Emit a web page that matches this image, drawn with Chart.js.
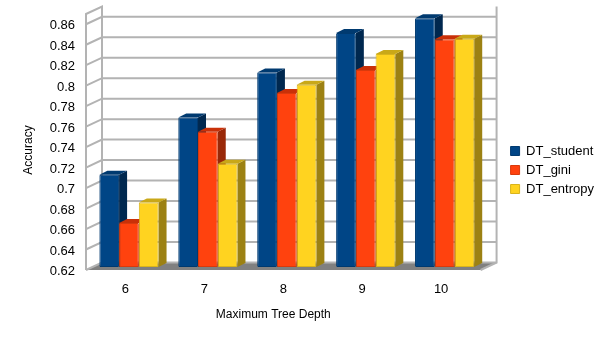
<!DOCTYPE html>
<html>
<head>
<meta charset="utf-8">
<script src="https://cdn.jsdelivr.net/npm/chart.js@4"></script>
<style>
  html, body { margin: 0; padding: 0; background: #fff; }
  canvas { display: block; }
</style>
</head>
<body>
<canvas id="chart" width="605" height="340"></canvas>
<script>
var depths = ["6", "7", "8", "9", "10"];
var dtStudent = [0.710, 0.766, 0.810, 0.8485, 0.863];
var dtGini = [0.663, 0.752, 0.790, 0.8125, 0.8425];
var dtEntropy = [0.683, 0.7208, 0.798, 0.828, 0.843];
var yTicks = [0.62, 0.64, 0.66, 0.68, 0.7, 0.72, 0.74, 0.76, 0.78, 0.8, 0.82, 0.84, 0.86];

var FONT = "'Liberation Sans', Arial, sans-serif";
var GRID = "#b3b3b3";
// fake 3d: how far the back wall and the bars sit from the front plane
var wallDx = 16, wallDy = -7.5;
var barDx = 3.5, barDy = -3;
var sideDx = 8, sideDy = -4;
var sideColors = ["#00284f", "#992808", "#9c8113"];
var topColors = ["#003a70", "#c93008", "#c9a818"];

var wallPlugin = {
    id: "wall",
    afterLayout: function (chart) {
        var y = chart.scales.y, tickPixel = y.getPixelForTick;
        // axis titles are not centred on the plot in the original
        chart.scales.x.right -= 20;
        y.top += 16;
        // and the tick labels sit a little under their grid lines
        y.getPixelForTick = function (i) { return tickPixel.call(y, i) + 1.5; };
    },
    beforeDatasetsDraw: function (chart) {
        var ctx = chart.ctx, a = chart.chartArea, y = chart.scales.y;
        ctx.save();
        // floor
        ctx.fillStyle = "#808080";
        ctx.beginPath();
        ctx.moveTo(a.left, a.bottom);
        ctx.lineTo(a.left + wallDx, a.bottom + wallDy);
        ctx.lineTo(a.right + wallDx, a.bottom + wallDy);
        ctx.lineTo(a.right, a.bottom);
        ctx.closePath();
        ctx.fill();
        // grid lines, round the side wall and along the back
        ctx.strokeStyle = GRID;
        ctx.lineWidth = 2;
        yTicks.forEach(function (v) {
            var py = y.getPixelForValue(v);
            ctx.beginPath();
            ctx.moveTo(a.left, py);
            ctx.lineTo(a.left + wallDx, py + wallDy);
            ctx.lineTo(a.right + wallDx, py + wallDy);
            ctx.stroke();
        });
        // wall outline
        ctx.beginPath();
        ctx.moveTo(a.left, a.bottom);
        ctx.lineTo(a.left, a.top);
        ctx.lineTo(a.left + wallDx, a.top + wallDy);
        ctx.lineTo(a.left + wallDx, a.bottom + wallDy);
        ctx.moveTo(a.right + wallDx, a.top + wallDy);
        ctx.lineTo(a.right + wallDx, a.bottom + wallDy);
        ctx.lineTo(a.right, a.bottom);
        ctx.stroke();
        ctx.restore();
    },
    // the library paints the last dataset first, here blue has to go first
    beforeDatasetDraw: function () {
        return false;
    },
    afterDatasetsDraw: function (chart) {
        var ctx = chart.ctx;
        ctx.save();
        ctx.translate(barDx, barDy);
        chart.data.datasets.forEach(function (ds, i) {
            var bars = chart.getDatasetMeta(i).data;
            bars.forEach(function (bar) {
                var p = bar.getProps(["x", "y", "base", "width"], true);
                var r = p.x + p.width / 2, l = p.x - p.width / 2;
                ctx.fillStyle = sideColors[i];
                ctx.beginPath();
                ctx.moveTo(r, p.y);
                ctx.lineTo(r + sideDx, p.y + sideDy);
                ctx.lineTo(r + sideDx, p.base + sideDy);
                ctx.lineTo(r, p.base);
                ctx.closePath();
                ctx.fill();
                ctx.fillStyle = topColors[i];
                ctx.beginPath();
                ctx.moveTo(l, p.y);
                ctx.lineTo(l + sideDx, p.y + sideDy);
                ctx.lineTo(r + sideDx, p.y + sideDy);
                ctx.lineTo(r, p.y);
                ctx.closePath();
                ctx.fill();
                bar.draw(ctx);
            });
        });
        ctx.restore();
    }
};

function barSet(label, values, color, edge) {
    return {
        label: label,
        data: values,
        base: yTicks[0],
        backgroundColor: color,
        borderColor: edge,
        borderWidth: 1,
        borderRadius: 1,
        borderSkipped: false,
        categoryPercentage: 0.75,
        barPercentage: 1
    };
}

new Chart(document.getElementById("chart"), {
    type: "bar",
    plugins: [wallPlugin],
    data: {
        labels: depths,
        datasets: [
            barSet("DT_student", dtStudent, "#004586", "#003a70"),
            barSet("DT_gini", dtGini, "#ff420e", "#d93a0c"),
            barSet("DT_entropy", dtEntropy, "#ffd320", "#d9b41c")
        ]
    },
    options: {
        responsive: false,
        animation: false,
        layout: { padding: { top: 0, right: 1, bottom: 0, left: 0 } },
        plugins: {
            tooltip: { enabled: false },
            legend: {
                position: "right",
                labels: {
                    boxWidth: 9,
                    boxHeight: 9,
                    padding: 6,
                    color: "#000",
                    font: { family: FONT, size: 13 }
                }
            }
        },
        scales: {
            x: {
                grid: { display: false },
                border: { display: false },
                ticks: { color: "#000", padding: 4, font: { family: FONT, size: 13 } },
                title: {
                    display: true,
                    text: "Maximum Tree Depth",
                    color: "#000",
                    font: { family: FONT, size: 12 },
                    padding: { top: 0, bottom: 18 }
                },
                afterFit: function (s) { s.height = 70; }
            },
            y: {
                min: 0.62,
                max: 0.87,
                grid: { display: false },
                border: { display: false },
                afterBuildTicks: function (s) {
                    s.ticks = yTicks.map(function (v) { return { value: v }; });
                },
                ticks: {
                    color: "#000",
                    padding: 3,
                    font: { family: FONT, size: 13 },
                    callback: function (v) { return String(v); }
                },
                title: {
                    display: true,
                    text: "Accuracy",
                    color: "#000",
                    font: { family: FONT, size: 12 },
                    padding: { top: 21, bottom: 0 }
                },
                afterFit: function (s) {
                    s.width = 86;
                    s.paddingTop = 0;
                    s.paddingBottom = 0;
                }
            },
            // empty axes, they keep room for the back wall without moving the legend
            gutter: {
                type: "linear",
                position: "right",
                grid: { display: false },
                border: { display: false },
                ticks: { display: false },
                afterFit: function (s) { s.width = 24; }
            },
            gutterTop: {
                type: "linear",
                position: "top",
                grid: { display: false },
                border: { display: false },
                ticks: { display: false },
                afterFit: function (s) { s.height = 14; }
            }
        }
    }
});
</script>
</body>
</html>
